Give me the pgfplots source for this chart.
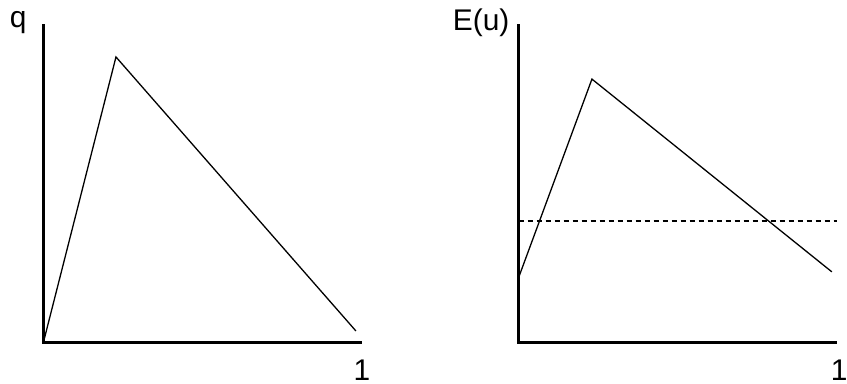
\documentclass[border=0pt]{standalone}
\usepackage{pgfplots}
\pgfplotsset{compat=1.18}
\usepackage{fontspec}
\setmainfont{Liberation Sans}

\pgfplotsset{
  sketch/.style={
    scale only axis,
    width=316.5bp, height=316bp,
    xmin=0, xmax=1, ymin=0, ymax=1,
    axis lines=left,
    axis line style={-, line width=3bp, line cap=rect},
    xtick=\empty, ytick=\empty,
    clip=false,
    anchor=south west,
  },
}

\begin{document}
\begin{tikzpicture}[x=1bp,y=1bp]
  \useasboundingbox (0,0) rectangle (847,383);
  % left panel: q
  \begin{axis}[sketch, at={(43.5bp,41bp)}]
    \addplot[black, line width=1.3bp] coordinates {(0,0) (0.229,0.902) (0.987,0.035)};
    \node[font=\fontsize{30}{34}\selectfont] at (axis cs:-0.08,1.01) {q};
    \node[font=\fontsize{30}{34}\selectfont] at (axis cs:1.006,-0.089) {1};
  \end{axis}
  % right panel: E(u)
  \begin{axis}[sketch, at={(518.5bp,41bp)}]
    \addplot[black, line width=1.3bp] coordinates {(0,0.203) (0.232,0.832) (0.99,0.222)};
    \addplot[black, line width=1.3bp, dash pattern=on 5bp off 4bp] coordinates {(0,0.383) (1.005,0.383)};
    \node[font=\fontsize{30}{34}\selectfont] at (axis cs:-0.118,1.01) {E(u)};
    \node[font=\fontsize{30}{34}\selectfont] at (axis cs:1.013,-0.089) {1};
  \end{axis}
\end{tikzpicture}
\end{document}
